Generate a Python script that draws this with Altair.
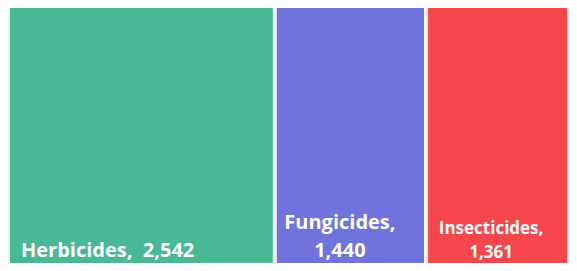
import altair as alt
import pandas as pd

categories = ["Herbicides", "Fungicides", "Insecticides"]
values = [2542, 1440, 1361]
colors = ["#48B896", "#7073DC", "#F5474C"]

df = pd.DataFrame({"category": categories, "value": values, "order": [0, 1, 2]})
total = sum(values)

W = 561
H = 255

base = alt.Chart(df).transform_window(
    x1="sum(value)", sort=[alt.SortField("order")], frame=[None, 0]
).transform_calculate(
    x0="datum.x1 - datum.value",
    label="format(datum.value, ',')",
)

xscale = alt.Scale(domain=[0, total], range=[0, W], nice=False, zero=False)

rects = base.mark_rect(stroke="white", strokeWidth=4, strokeOpacity=0.85).encode(
    x=alt.X("x0:Q", scale=xscale, axis=None),
    x2="x1:Q",
    y=alt.value(-2),
    y2=alt.value(H + 10),
    color=alt.Color("category:N", scale=alt.Scale(domain=categories, range=colors), legend=None),
)

font = "Open Sans"

herb = base.transform_filter(alt.datum.category == "Herbicides").mark_text(
    align="left", baseline="alphabetic", dx=13, fontSize=20, fontWeight="bold", font=font, color="white"
).encode(
    x=alt.X("x0:Q", scale=xscale, axis=None),
    y=alt.value(249),
    text=alt.Text("t:N"),
).transform_calculate(t="datum.category + ',\u00a0\u00a0' + datum.label")

fung = base.transform_filter(alt.datum.category == "Fungicides").mark_text(
    align="center", baseline="alphabetic", dx=65, fontSize=20, fontWeight="bold", font=font,
    color="white", lineHeight=28,
).encode(
    x=alt.X("x0:Q", scale=xscale, axis=None),
    y=alt.value(221),
    text=alt.Text("t:N"),
).transform_calculate(t="[datum.category + ',', datum.label]")

ins = base.transform_filter(alt.datum.category == "Insecticides").mark_text(
    align="center", baseline="alphabetic", dx=65, fontSize=17, fontWeight="bold", font=font,
    color="white", lineHeight=24,
).encode(
    x=alt.X("x0:Q", scale=xscale, axis=None),
    y=alt.value(226),
    text=alt.Text("t:N"),
).transform_calculate(t="[datum.category + ',', datum.label]")

chart = alt.layer(rects, herb, fung, ins).properties(
    width=W, height=H, padding=0, autosize=alt.AutoSizeParams(type="none")
).configure_view(stroke=None)

chart.save("out.html", embed_options={"renderer": "svg", "actions": False})
